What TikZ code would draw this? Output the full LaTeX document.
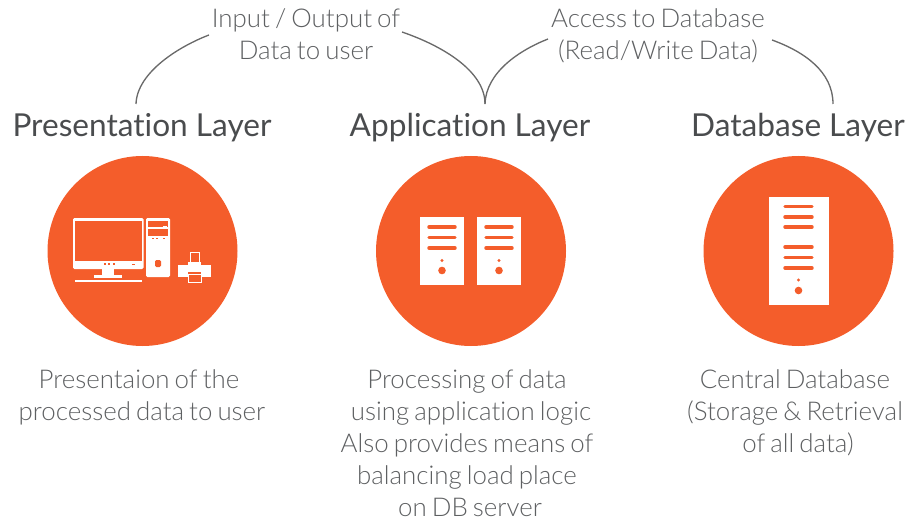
\documentclass[tikz,border=0pt]{standalone}
\usepackage{fontspec}
\setmainfont[Ligatures=NoCommon,WordSpace=0.72]{Lato Light}
\newfontfamily\headfont[Ligatures=NoCommon]{Lato}
\definecolor{brand}{HTML}{F45D2B}
\definecolor{txtgrey}{HTML}{5E6062}
\definecolor{headgrey}{HTML}{4A4C4E}
\definecolor{linegrey}{HTML}{6A6A6A}
\tikzset{x=0.75pt,y=-0.75pt,
 disc/.style={circle,fill=brand,draw=none,minimum size=142.5pt,inner sep=0pt},
 head/.style={font=\headfont\fontsize{23.7}{28}\selectfont,text=headgrey,inner sep=0pt},
 body/.style={font=\fontsize{19.4}{24}\selectfont,text=txtgrey,align=center,inner sep=0pt},
 link/.style={draw=linegrey,line width=1pt},
 wh/.style={fill=white,draw=none},
 or/.style={fill=brand,draw=none},
 bar/.style={draw=brand,line width=2.6pt,line cap=round}}
\begin{document}
\begin{tikzpicture}
\useasboundingbox (0,0) rectangle (919,520);
\node[disc] (c1) at (142.5,251) {};
\node[disc] (c2) at (471,251) {};
\node[disc] (c3) at (798.5,251) {};
\node[head,anchor=base] (h1) at (142,137) {Presentation Layer};
\node[head,anchor=base] (h2) at (470,137) {Application Layer};
\node[head,anchor=base] (h3) at (798,137) {Database Layer};
\node[body,anchor=base] (a1) at (306,28) {Input / Output of};
\node[body,anchor=base] (a2) at (306,60) {Data to user};
\node[body,anchor=base] (b1) at (658,28) {Access to Database};
\node[body,anchor=base] (b2) at (658,60) {(Read/Write Data)};
\node[body,anchor=base] (p1) at (139,388) {Presentaion of the};
\node[body,anchor=base] (p2) at (142,420) {processed data to user};
\node[body,anchor=base] (q1) at (467,388) {Processing of data};
\node[body,anchor=base] (q2) at (471,420) {using application logic};
\node[body,anchor=base] (q3) at (467,452) {Also provides means of};
\node[body,anchor=base] (q4) at (467,484) {balancing load place};
\node[body,anchor=base] (q5) at (470,516) {on DB server};
\node[body,anchor=base] (r1) at (795,388) {Central Database};
\node[body,anchor=base] (r2) at (795,420) {(Storage \& Retrieval};
\node[body,anchor=base] (r3) at (798,452) {of all data)};
% connectors
\coordinate (l1) at (136,104);
\coordinate (l1e) at (209,35);
\coordinate (l2) at (402,32);
\coordinate (l2e) at (485,104);
\coordinate (l3) at (548,39);
\coordinate (l4) at (772,40);
\coordinate (l4e) at (833,104);
\draw[link] (l1) .. controls (137,72) and (180,46) .. (l1e);
\draw[link] (l2) .. controls (440,45) and (485,70) .. (l2e);
\draw[link] (l2e) .. controls (486,72) and (520,50) .. (l3);
\draw[link] (l4) .. controls (805,52) and (833,72) .. (l4e);
% monitor
\fill[wh,rounded corners=1pt] (73,218) rectangle (143.5,269);
\fill[or] (75,220.5) rectangle (141.5,261);
\fill[wh] (102,269) rectangle (114,275);
\fill[wh] (94,275) rectangle (122,277.5);
\fill[wh] (75,279.5) rectangle (142,282);
\foreach \x in {103.5,108,112.5} \fill[or] (\x,263) rectangle +(2,2);
\fill[or] (132,264) rectangle +(3,1);
% tower
\fill[wh,rounded corners=1pt] (146,218) rectangle (170,277);
\fill[or] (148,221) rectangle (168,227.3);
\fill[wh] (163,226) rectangle (167,227.3);
\fill[or] (148,229) rectangle (168,235.7);
\foreach \x in {152,156,163} \fill[or] (\x,237.5) rectangle +(2.2,1.5);
\fill[or,rounded corners=1pt] (155,260) rectangle (161,267);
% printer
\fill[wh] (178,265) rectangle (211,277);
\fill[wh] (188,262) rectangle (201,265);
\draw[white,line width=.6pt] (190.5,252.5) rectangle (199.5,262);
\fill[or] (188,270.5) rectangle (201,277);
\fill[wh] (188,270.5) rectangle (201,272);
\draw[white,line width=.6pt,fill=brand] (188.5,274) rectangle (201,282.5);
% app servers
\foreach \x in {420,477}{
 \fill[wh] (\x,217) rectangle +(44,68);
 \foreach \y in {227,237.5,248} \draw[bar] (\x+9,\y) -- +(26,0);
 \fill[or] (\x+22,260.5) circle (1.6);
 \fill[or] (\x+22,270.5) circle (3.8);
}
% db server
\fill[wh] (769,197) rectangle (829,305);
\foreach \y in {206.5,217,227,247,257.5,268} \draw[bar] (785,\y) -- (812,\y);
\fill[or] (798.5,280) circle (1.6);
\fill[or] (798.5,290.5) circle (3.8);
\end{tikzpicture}
\end{document}
